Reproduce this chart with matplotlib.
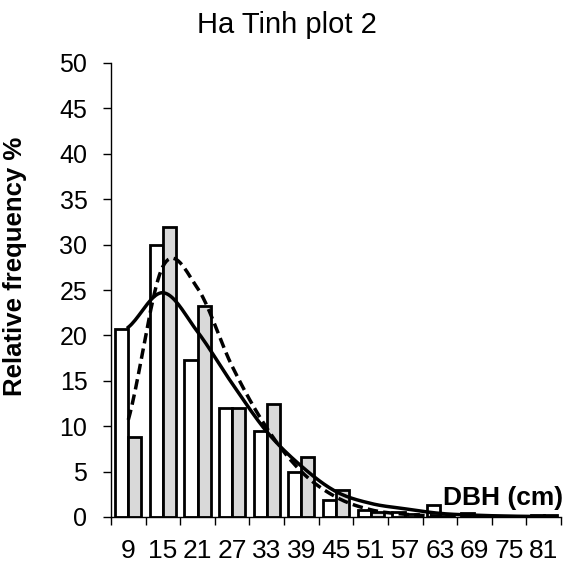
import numpy as np
import matplotlib.pyplot as plt

plt.rcParams['font.family'] = ['Liberation Sans', 'DejaVu Sans']

# DBH classes (cm) and relative frequencies (%)
classes = [9, 15, 21, 27, 33, 39, 45, 51, 57, 63, 69, 75, 81]
observed_a = [20.7, 30.0, 17.3, 12.0, 9.5, 5.0, 1.9, 0.8, 0.5, 1.3, 0.4, 0.0, 0.2]
observed_b = [8.8, 31.9, 23.2, 12.0, 12.4, 6.6, 3.0, 0.6, 0.3, 0.1, 0.0, 0.0, 0.2]
fit_solid = [20.9, 24.7, 20.4, 14.7, 9.4, 5.6, 2.8, 1.5, 0.9, 0.4, 0.2, 0.1, 0.05]
fit_dashed = [10.7, 27.6, 25.2, 16.6, 9.8, 5.0, 2.2, 0.8, 0.3, 0.1, 0.05, 0.0, 0.0]


def smooth(y, n=20):
    # cubic Hermite smoothing between points (like Excel smoothed line)
    y = np.asarray(y, dtype=float)
    x = np.arange(len(y), dtype=float)
    m = np.gradient(y)
    m[0] = (y[1] - y[0]) * 0.8
    m[-1] = (y[-1] - y[-2]) * 0.8
    xs, ys = [], []
    t = np.linspace(0, 1, n, endpoint=False)
    h00 = 2 * t**3 - 3 * t**2 + 1
    h10 = t**3 - 2 * t**2 + t
    h01 = -2 * t**3 + 3 * t**2
    h11 = t**3 - t**2
    for i in range(len(y) - 1):
        xs.append(x[i] + t)
        ys.append(h00 * y[i] + h10 * m[i] + h01 * y[i + 1] + h11 * m[i + 1])
    xs.append([x[-1]])
    ys.append([y[-1]])
    return np.concatenate(xs), np.concatenate(ys)


fig = plt.figure(figsize=(5.72, 5.72), dpi=100)
ax = fig.add_axes([111 / 572, 1 - 517 / 572, 450 / 572, 454 / 572])

pos = np.arange(len(classes))
w = 0.378
ax.bar(pos - w / 2, observed_a, width=w, color='white', edgecolor='black', linewidth=2.0, zorder=2)
ax.bar(pos + w / 2, observed_b, width=w, color='#d9d9d9', edgecolor='black', linewidth=2.0, zorder=2)

xs, ys = smooth(fit_solid)
ax.plot(xs, ys, color='black', linewidth=2.5, zorder=3)
xs, ys = smooth(fit_dashed)
ax.plot(xs, ys, color='black', linewidth=2.5, linestyle=(0, (3, 1.5)), zorder=3)

ax.set_xlim(-0.5, len(classes) - 0.5)
ax.set_ylim(0, 50)
ax.set_yticks(range(0, 51, 5))
ax.set_xticks(pos)
ax.set_xticklabels([str(c) for c in classes])
ax.set_xticks(np.arange(-0.5, len(classes), 1), minor=True)
ax.tick_params(axis='x', which='major', length=0, pad=16, labelsize=19)
ax.tick_params(axis='x', which='minor', length=6, width=1, direction='out')
ax.tick_params(axis='y', length=6, width=1, direction='out', labelsize=18, pad=11)

for side in ['top', 'right']:
    ax.spines[side].set_visible(False)
for side in ['left', 'bottom']:
    ax.spines[side].set_linewidth(1)

ax.set_ylabel('Relative frequency %', fontsize=18.5, fontweight='bold')
ax.yaxis.set_label_coords(27 / 572, 1 - 266 / 572, transform=fig.transFigure)
fig.text(287 / 572, 1 - 33 / 572, 'Ha Tinh plot 2', fontsize=21, ha='center', va='baseline')
ax.text(len(classes) - 0.45, 1.3, 'DBH (cm)', fontsize=19, fontweight='bold', ha='right', va='baseline')

fig.savefig('out.png', dpi=100)
